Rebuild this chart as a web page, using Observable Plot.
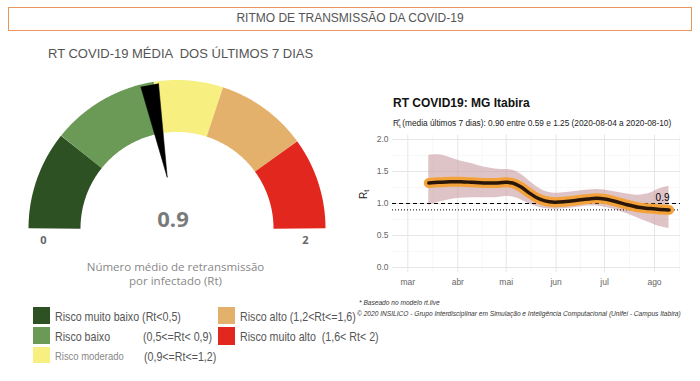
<!DOCTYPE html>
<html>
<head>
<meta charset="utf-8">
<script src="https://cdn.jsdelivr.net/npm/d3@7"></script>
<script src="https://cdn.jsdelivr.net/npm/@observablehq/plot@0.6"></script>
<style>
  body { margin:0; width:700px; height:381px; position:relative; background:#fff; overflow:hidden; font-family:"Liberation Sans", Arial, sans-serif; }
  .abs { position:absolute; white-space:pre; line-height:1; }
  .narrow { transform:scaleX(0.82); transform-origin:0 50%; font-family:"Liberation Sans", Arial, sans-serif; }
  #titlebox { position:absolute; left:8px; top:7px; width:684px; height:24px; box-sizing:border-box; border:1.5px solid #e8965e; }
  .sq { position:absolute; }
</style>
</head>
<body>
<div id="titlebox"></div>
<div class="abs" id="title" style="left:0;width:700px;text-align:center;top:11.5px;font-size:12px;color:#555;">RITMO DE TRANSMISSÃO DA COVID-19</div>
<div class="abs" style="left:48px;top:46.5px;font-size:13px;color:#555;">RT COVID-19 MÉDIA  DOS ÚLTIMOS 7 DIAS</div>
<div id="gauge" style="position:absolute;left:0;top:60px;"></div>
<div class="abs" id="rtitle" style="left:393px;top:96.5px;font-size:12px;font-weight:bold;color:#111;">RT COVID19: MG Itabira</div>
<div class="abs" id="rsub" style="left:393px;top:117.5px;font-size:8.3px;color:#222;">R<sub style="font-size:6px;vertical-align:-2px;">t</sub><sup style="font-size:6px;vertical-align:3px;margin-left:-3px;">*</sup> (media últimos 7 dias): 0.90 entre 0.59 e 1.25 (2020-08-04 a 2020-08-10)</div>
<div class="abs" style="left:359px;top:199px;font-size:10px;color:#222;transform:rotate(-90deg);transform-origin:0 0;">R<sub style="font-size:7px;vertical-align:-2px;">t</sub></div>
<div id="chart" style="position:absolute;left:350px;top:125px;"></div>
<div id="legend"></div>
<div class="abs" style="left:359px;top:300px;font-size:6.6px;font-style:italic;color:#333;">* Baseado no modelo rt.live</div>
<div class="abs" style="left:357px;top:311px;font-size:6.6px;font-style:italic;color:#333;">© 2020 INSILICO - Grupo Interdisciplinar em Simulação e Inteligência Computacional (Unifei - Campus Itabira)</div>
<script>
// ---------- Gauge data ----------
const gaugeBreaks = [0, 0.43, 0.9, 1.2, 1.6, 2];
const gaugeColors = ["#2e5124", "#6b9a56", "#f7f080", "#e4b16c", "#e1271e"];
const gaugeValue = 0.9;
const needleValue = 0.88;
const gaugeEndLabels = [0, 2];
const gaugeCaption = ["Número médio de retransmissão", "por infectado (Rt)"];

// ---------- Legend data ----------
const riskNames = ["Risco muito baixo", "Risco baixo", "Risco moderado", "Risco alto", "Risco muito alto"];
const riskRanges = ["(Rt<0,5)", "(0,5<=Rt< 0,9)", "(0,9<=Rt<=1,2)", "(1,2<Rt<=1,6)", " (1,6< Rt< 2)"];

// ---------- Rt time series ----------
const dates = ["2020-03-14","2020-03-20","2020-03-27","2020-04-03","2020-04-10","2020-04-17","2020-04-24","2020-05-01","2020-05-05","2020-05-10","2020-05-15","2020-05-20","2020-05-25","2020-05-31","2020-06-07","2020-06-14","2020-06-21","2020-06-26","2020-07-01","2020-07-08","2020-07-15","2020-07-22","2020-07-29","2020-08-03","2020-08-10"];
const rtMean  = [1.32,1.33,1.34,1.34,1.33,1.32,1.32,1.33,1.32,1.26,1.17,1.09,1.04,1.02,1.03,1.05,1.07,1.08,1.07,1.03,0.98,0.94,0.92,0.91,0.90];
const rtLower = [0.97,1.02,1.06,1.08,1.09,1.09,1.09,1.11,1.10,1.06,1.00,0.95,0.92,0.91,0.92,0.94,0.96,0.96,0.94,0.90,0.84,0.77,0.70,0.65,0.61];
const rtUpper = [1.75,1.76,1.72,1.66,1.62,1.57,1.54,1.53,1.52,1.46,1.36,1.26,1.19,1.16,1.17,1.19,1.21,1.22,1.21,1.18,1.15,1.13,1.16,1.22,1.27];
const monthTicks = ["2020-03-01","2020-04-01","2020-05-01","2020-06-01","2020-07-01","2020-08-01"];
const monthLabels = ["mar","abr","mai","jun","jul","ago"];
const minorDates = ["2020-03-16T12:00Z","2020-04-16","2020-05-16T12:00Z","2020-06-16","2020-07-16T12:00Z","2020-08-16T12:00Z"];
const yTicks = [0, 0.5, 1, 1.5, 2];
const yMinor = [0.25, 0.75, 1.25, 1.75];
const refLine = 1.0;
const avgRt = 0.9;

// ---------- Gauge ----------
const R_OUT = 148.5, R_IN = 96.5, R_MID = (R_OUT + R_IN) / 2;
const ang = v => Math.PI * (1 - v / 2);
const segs = [];
for (let i = 0; i < gaugeColors.length; i++) {
  const a = gaugeBreaks[i], b = gaugeBreaks[i + 1];
  const pts = d3.range(0, 61).map(k => {
    const v = a + (b - a) * k / 60;
    return {x: R_MID * Math.cos(ang(v)), y: R_MID * Math.sin(ang(v))};
  });
  segs.push(Plot.line(pts, {x: "x", y: "y", stroke: gaugeColors[i], strokeWidth: R_OUT - R_IN, strokeLinecap: "butt", strokeLinejoin: "round"}));
}
const nA = ang(needleValue);
const needle = [{x: (R_OUT - 2.5) * Math.cos(nA), y: (R_OUT - 2.5) * Math.sin(nA)}];
const gfont = "'Open Sans', 'DejaVu Sans', sans-serif";
const gauge = Plot.plot({
  width: 350, height: 240, margin: 0,
  x: {domain: [-176.5, 173.5], axis: null},
  y: {domain: [-72, 168], axis: null},
  style: {background: "transparent", overflow: "visible"},
  marks: [
    ...segs,
    Plot.vector(needle, {x: "x", y: "y", shape: "spike", anchor: "start", length: R_OUT - 2.5 - 52, r: 9, rotate: 270 - nA * 180 / Math.PI, fill: "#000", stroke: "#000", strokeWidth: 0.5}),
    Plot.text([gaugeValue], {x: -4, y: 9, text: d => d.toFixed(1), fontSize: 22, fontWeight: 700, fill: "#7a7a7a", fontFamily: gfont}),
    Plot.text(gaugeEndLabels, {x: d => d === 0 ? -133.5 : 128.5, y: -12, text: d => String(d), fontSize: 11, fontWeight: 700, fill: "#666", fontFamily: gfont}),
    Plot.text(gaugeCaption, {x: -1.5, y: (d, i) => -39 - 14 * i, text: d => d, fontSize: 11.5, fill: "#888", fontFamily: gfont})
  ]
});
document.getElementById("gauge").append(gauge);

// ---------- Rt chart ----------
const data = dates.map((d, i) => ({date: new Date(d), mean: rtMean[i], lo: rtLower[i], hi: rtUpper[i]}));
const mTicks = monthTicks.map(d => new Date(d));
const mLab = new Map(mTicks.map((d, i) => [+d, monthLabels[i]]));
const chart = Plot.plot({
  width: 340, height: 170,
  marginLeft: 42, marginRight: 10, marginTop: 9.5, marginBottom: 22.9,
  style: {fontFamily: "'Liberation Sans', Arial, sans-serif", fontSize: "8.5px", color: "#666", background: "transparent", overflow: "visible"},
  x: {type: "utc", domain: [new Date("2020-02-20T12:00Z"), new Date("2020-08-17T03:00Z")]},
  y: {domain: [-0.08, 2.07]},
  marks: [
    Plot.ruleX(minorDates.map(d => new Date(d)), {stroke: "#f2f2f2", strokeWidth: 0.6}),
    Plot.ruleY(yMinor, {stroke: "#f2f2f2", strokeWidth: 0.6}),
    Plot.ruleX(mTicks, {stroke: "#e6e6e6", strokeWidth: 1}),
    Plot.ruleY(yTicks, {stroke: "#e6e6e6", strokeWidth: 1}),
    Plot.areaY(data, {x: "date", y1: "lo", y2: "hi", fill: "#c99ca2", fillOpacity: 0.6, curve: "catmull-rom"}),
    Plot.ruleY([refLine], {stroke: "#000", strokeDasharray: "4,3", strokeWidth: 1.1}),
    Plot.ruleY([avgRt], {stroke: "#000", strokeDasharray: "1,2", strokeWidth: 1}),
    Plot.line(data, {x: "date", y: "mean", stroke: "#f3a23a", strokeWidth: 10, curve: "catmull-rom"}),
    Plot.line(data, {x: "date", y: "mean", stroke: "#2a1609", strokeWidth: 3.5, curve: "catmull-rom"}),
    Plot.text([avgRt], {x: d => new Date("2020-08-06"), y: refLine, dy: -6, text: d => d.toFixed(1), fill: "#000", fontSize: 10}),
    Plot.axisY({ticks: yTicks, tickSize: 0, tickPadding: 4, tickFormat: d => d.toFixed(1), label: null}),
    Plot.axisX({ticks: mTicks, tickSize: 0, tickPadding: 6, tickFormat: d => mLab.get(+d), label: null})
  ]
});
document.getElementById("chart").append(chart);

// ---------- Legend ----------
const legend = document.getElementById("legend");
const sqPos = [[33, 307, 17], [33, 327, 17], [33, 347, 16], [218, 307, 17], [218, 327, 18]];
riskNames.forEach((name, i) => {
  const [lx, ty, h] = sqPos[i];
  const sq = document.createElement("div");
  sq.className = "sq";
  sq.style.cssText = `left:${lx}px;top:${ty}px;width:17px;height:${h}px;background:${gaugeColors[i]};`;
  legend.append(sq);
  const small = i === 2;
  const t = document.createElement("div");
  t.className = "abs narrow";
  const fs = small ? 11.5 : 13;
  t.style.cssText = `left:${lx + 22}px;top:${ty + 10 - fs * 0.55}px;font-size:${fs}px;color:${small ? "#888" : "#555"};`;
  t.textContent = (i === 0 || i >= 3) ? `${name} ${riskRanges[i]}` : name;
  legend.append(t);
  if (i === 1 || i === 2) {
    const r = document.createElement("div");
    r.className = "abs narrow";
    r.style.cssText = `left:${i === 1 ? 143 : 144}px;top:${ty + 10 - 13 * 0.55}px;font-size:13px;color:#555;`;
    r.textContent = riskRanges[i];
    legend.append(r);
  }
});
</script>
</body>
</html>
